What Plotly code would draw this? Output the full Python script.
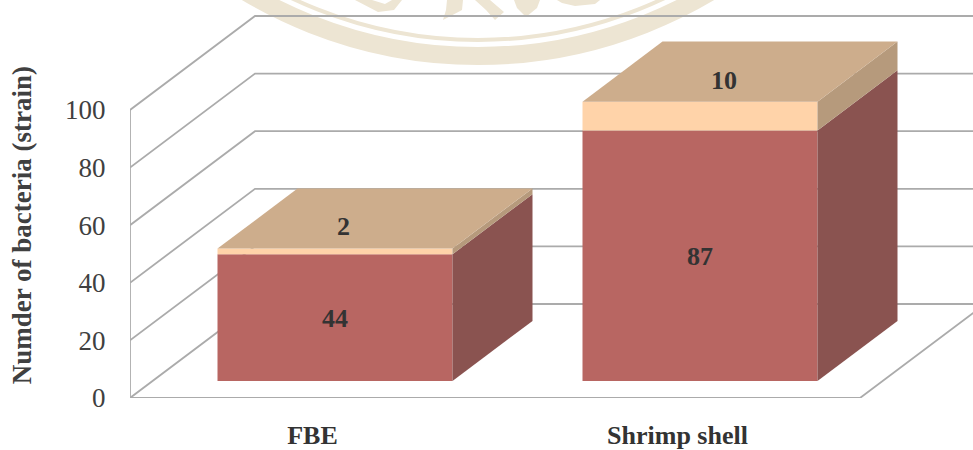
import plotly.graph_objects as go

categories = ["FBE", "Shrimp shell"]
lower_series = [44, 87]
upper_series = [2, 10]
y_ticks = [0, 20, 40, 60, 80, 100]

# Bar faces
RED_FRONT, RED_SIDE = "#B86662", "#8A5350"
CREAM_FRONT, CREAM_SIDE, CREAM_TOP = "#FFD3A9", "#B69A7C", "#CDAD8C"
GRID = "#ABABAB"
SEAL = "#EDE5D3"
SERIF = "Liberation Serif"

# Oblique projection: one full unit of depth moves this far across and up
WIDTH, HEIGHT = 973, 450
LEFT, BOTTOM = 130, 52
PX_PER_CAT, PX_PER_VAL = 365, 2.88
DEPTH_X, DEPTH_Y = 125 / PX_PER_CAT, 94 / PX_PER_VAL
BAR_WIDTH = 235 / PX_PER_CAT
NEAR, FAR = 0.18, 0.82

X_RANGE = [-0.5, -0.5 + (WIDTH - LEFT) / PX_PER_CAT]
Y_RANGE = [0, (HEIGHT - BOTTOM) / PX_PER_VAL]


def project(x, value, depth):
    return x + depth * DEPTH_X, value + depth * DEPTH_Y


def px_x(p):
    return -0.5 + (p - LEFT) / PX_PER_CAT


def px_y(p):
    return (HEIGHT - BOTTOM - p) / PX_PER_VAL


def grid_line(points):
    xs, ys = zip(*points)
    path = "M " + " L ".join(f"{a} {b}" for a, b in zip(xs, ys))
    return dict(type="path", path=path, xref="x", yref="y", layer="below",
                line=dict(color=GRID, width=1.8))


def seal_ring(cx, cy, radius, width):
    return dict(type="circle", xref="x", yref="y", layer="below",
                x0=px_x(cx - radius), x1=px_x(cx + radius),
                y0=px_y(cy + radius), y1=px_y(cy - radius),
                line=dict(color=SEAL, width=width))


def seal_glyph(points):
    path = "M " + " L ".join(f"{px_x(a)} {px_y(b)}" for a, b in points) + " Z"
    return dict(type="path", path=path, xref="x", yref="y", layer="below",
                fillcolor=SEAL, line=dict(width=0))


shapes = [
    seal_ring(478, -396, 452, 18),
    seal_ring(478, -396, 436, 4),
    seal_glyph([(355, 0), (378, 12), (394, 10), (402, 0), (392, 0), (385, 4), (372, 0)]),
    seal_glyph([(447, 0), (463, 0), (462, 10), (443, 20), (446, 10)]),
    seal_glyph([(475, 0), (490, 0), (504, 12), (495, 20), (486, 10)]),
    seal_glyph([(514, 0), (540, 0), (537, 8), (526, 17), (517, 8)]),
    seal_glyph([(557, 0), (600, 0), (595, 4), (575, 6), (562, 3)]),
]

# Walls and floor: each gridline runs along the side wall, then across the back
x_left, x_right = -0.5, 1.5
for tick in y_ticks:
    shapes.append(grid_line([project(x_left, tick, 0), project(x_left, tick, 1),
                             project(x_right, tick, 1)]))
shapes.append(grid_line([(x_left, y_ticks[0]), (x_left, y_ticks[-1])]))
shapes.append(grid_line([(x_left, 0), (x_right, 0), project(x_right, 0, 1)]))

fig = go.Figure()

# Front faces
fig.add_trace(go.Bar(x=[0, 1], y=lower_series, base=[NEAR * DEPTH_Y] * 2,
                     width=BAR_WIDTH, offset=NEAR * DEPTH_X - BAR_WIDTH / 2,
                     marker=dict(color=RED_FRONT, line=dict(width=0)), showlegend=False))
fig.add_trace(go.Bar(x=[0, 1], y=upper_series,
                     base=[NEAR * DEPTH_Y + v for v in lower_series],
                     width=BAR_WIDTH, offset=NEAR * DEPTH_X - BAR_WIDTH / 2,
                     marker=dict(color=CREAM_FRONT, line=dict(width=0)), showlegend=False))


def face(points, color):
    xs, ys = zip(*points)
    fig.add_trace(go.Scatter(x=list(xs) + [xs[0]], y=list(ys) + [ys[0]], mode="lines",
                             fill="toself", fillcolor=color, line=dict(width=0),
                             hoverinfo="skip", showlegend=False))


# Side and top faces of each stack
for i, (low, high) in enumerate(zip(lower_series, upper_series)):
    xl = i - BAR_WIDTH / 2
    xr = i + BAR_WIDTH / 2
    total = low + high
    face([project(xr, 0, NEAR), project(xr, 0, FAR),
          project(xr, low, FAR), project(xr, low, NEAR)], RED_SIDE)
    face([project(xr, low, NEAR), project(xr, low, FAR),
          project(xr, total, FAR), project(xr, total, NEAR)], CREAM_SIDE)
    face([project(xl, total, NEAR), project(xr, total, NEAR),
          project(xr, total, FAR), project(xl, total, FAR)], CREAM_TOP)

# Value labels: the lower segment sits on its front face, the upper on the top face
annotations = []
upper_shift = [(8, 25), (24, 36)]
for i, (low, high) in enumerate(zip(lower_series, upper_series)):
    x_mid, y_low = project(i, low / 2, NEAR)
    annotations.append(dict(x=x_mid, y=y_low, text=f"<b>{low}</b>", showarrow=False,
                            yshift=-1, font=dict(family=SERIF, size=26, color="#333333")))
    x_mid, y_up = project(i, low + high / 2, NEAR)
    annotations.append(dict(x=x_mid, y=y_up, text=f"<b>{high}</b>", showarrow=False,
                            xshift=upper_shift[i][0], yshift=upper_shift[i][1],
                            font=dict(family=SERIF, size=26, color="#333333")))

annotations.append(dict(xref="paper", yref="paper", x=-0.149, y=0.435,
                        text="<b>Numder of bacteria (strain)</b>", textangle=-90,
                        showarrow=False, font=dict(family=SERIF, size=27, color="#404040")))

fig.update_layout(
    width=WIDTH, height=HEIGHT,
    margin=dict(l=LEFT, r=0, t=0, b=BOTTOM, pad=0, autoexpand=False),
    paper_bgcolor="white", plot_bgcolor="white",
    shapes=shapes, annotations=annotations,
    showlegend=False, barmode="overlay",
    xaxis=dict(range=X_RANGE, tickmode="array", tickvals=[0, 1], automargin=False,
               ticktext=[f"<b>{c}</b>" for c in categories], showgrid=False, zeroline=False,
               showline=False, ticks="outside", ticklen=14, tickcolor="rgba(0,0,0,0)",
               tickfont=dict(family=SERIF, size=26, color="#333333")),
    yaxis=dict(range=Y_RANGE, tickmode="array", tickvals=y_ticks, showgrid=False, automargin=False,
               zeroline=False, showline=False, ticks="outside", ticklen=18,
               tickcolor="rgba(0,0,0,0)",
               tickfont=dict(family=SERIF, size=27, color="#404040")),
)

fig.write_html("out.html", config=dict(displayModeBar=False))
